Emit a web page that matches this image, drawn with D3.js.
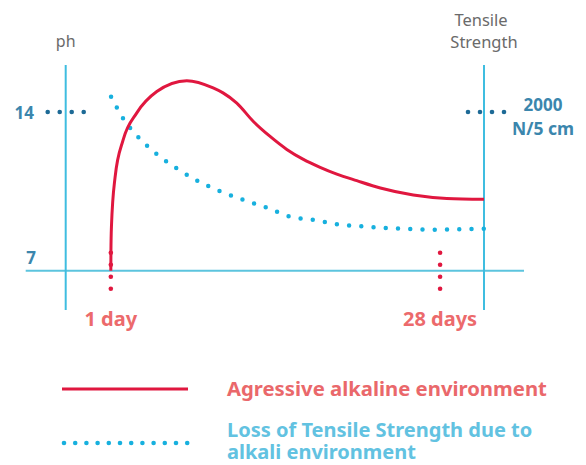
<!DOCTYPE html>
<html>
<head>
<meta charset="utf-8">
<script src="https://cdn.jsdelivr.net/npm/d3@7"></script>
<style>
	body { margin: 0; background: #fff; }
	text { font-family: "Noto Sans", "Open Sans", sans-serif; }
</style>
</head>
<body>
<div id="chart"></div>
<script>
// pH of the alkaline environment (red line), days vs ph
var alkaliDays = [1, 1.01, 1.05, 1.35, 2.01, 3.13, 4.77, 7.23, 9.39, 10.2, 11.33, 12.69, 14.06, 15.43, 16.79, 18.16, 19.53, 21.17, 23.1, 25.8, 28.55, 31.6];
var alkaliPh   = [7.0, 7.9, 8.93, 11.13, 12.77, 13.96, 14.9, 15.38, 15.06, 14.84, 14.39, 13.58, 12.92, 12.35, 11.91, 11.56, 11.26, 10.97, 10.65, 10.34, 10.19, 10.15];

// tensile strength (blue dotted), days vs N/5 cm
var tensileDays = [1.02, 2.09, 3.4, 4.88, 6.52, 8.24, 10.05, 11.9, 13.8, 15.7, 17.7, 19.6, 21.6, 23.5, 25.5, 27.6, 29.6, 31.6];
var tensileVals = [2193, 1899, 1660, 1454, 1278, 1122, 996, 891, 794, 681, 639, 585, 560, 538, 526, 517, 524, 529];

var dayTicks = [1, 28];
var dayLabels = ["1 day", "28 days"];
var phTicks = [14, 7];
var tensileTick = 2000;

var legendItems = [
	{ label: ["Agressive alkaline environment"], kind: "line" },
	{ label: ["Loss of Tensile Strength due to", "alkali environment"], kind: "dots" }
];

var W = 586, H = 465;
var red = "#e0173f", cyan = "#17b0de", axisCol = "#3fbde0", tickCol = "#3b86ad";

var svg = d3.select("#chart").append("svg").attr("width", W).attr("height", H);

var x = d3.scaleLinear().domain([-2.7, 31.6]).range([65.7, 484]);
var y = d3.scaleLinear().domain([5.27, 16.07]).range([310, 65]);
var y2 = d3.scaleLinear().domain([-495, 2592]).range([310, 65]);

// axes
svg.append("line")
	.attr("x1", x(-2.7) - 40).attr("x2", x(31.6) + 40)
	.attr("y1", y(7)).attr("y2", y(7))
	.attr("stroke", "#5cc4de").attr("stroke-width", 2);

[-2.7, 31.6].forEach(function (d) {
	svg.append("line")
		.attr("x1", x(d)).attr("x2", x(d))
		.attr("y1", y(16.07)).attr("y2", y(5.27))
		.attr("stroke", axisCol).attr("stroke-width", 2);
});

// axis titles
svg.append("text").attr("x", x(-2.7)).attr("y", 47)
	.attr("text-anchor", "middle").attr("fill", "#6a6a6a").attr("font-size", 16).text("ph");
svg.append("text").attr("x", x(31.6) - 3).attr("y", 26)
	.attr("text-anchor", "middle").attr("fill", "#6a6a6a").attr("font-size", 16.5).text("Tensile");
svg.append("text").attr("x", x(31.6)).attr("y", 48)
	.attr("text-anchor", "middle").attr("fill", "#6a6a6a").attr("font-size", 16.5).text("Strength");

// dotted tick marks, drawn as dots at offsets around a position
var dotOffsets = [-18, -6, 6, 18];
function dotsH(cx, cy, col) {
	svg.selectAll(null).data(dotOffsets).enter().append("circle")
		.attr("cx", function (o) { return cx + o; }).attr("cy", cy)
		.attr("r", 2.3).attr("fill", col);
}
function dotsV(cx, cy, col) {
	svg.selectAll(null).data(dotOffsets).enter().append("circle")
		.attr("cx", cx).attr("cy", function (o) { return cy + o; })
		.attr("r", 2.3).attr("fill", col);
}

dotsH(x(-2.7), y(14), "#1d6a96");
dotsH(x(31.6) + 2, y2(tensileTick), "#1d6a96");

svg.selectAll(".phlab").data(phTicks).enter().append("text")
	.attr("x", function (d) { return d === 14 ? 34 : 36; })
	.attr("y", function (d) { return d === 14 ? y(d) + 7 : y(d) - 7; })
	.attr("text-anchor", "end").attr("font-weight", "bold").attr("font-size", 17)
	.attr("fill", tickCol).text(function (d) { return d; });

svg.append("text").attr("x", 543).attr("y", y2(tensileTick) - 1)
	.attr("text-anchor", "middle").attr("font-weight", "bold").attr("font-size", 17)
	.attr("fill", tickCol).text(tensileTick);
svg.append("text").attr("x", 543).attr("y", y2(tensileTick) + 23)
	.attr("text-anchor", "middle").attr("font-weight", "bold").attr("font-size", 17.5)
	.attr("fill", tickCol).text("N/5 cm");

// day markers
dayTicks.forEach(function (d, i) {
	dotsV(x(d), y(7), red);
	svg.append("text").attr("x", x(d)).attr("y", 326)
		.attr("text-anchor", "middle").attr("font-weight", "bold").attr("font-size", 20)
		.attr("fill", "#ec6a6c").text(dayLabels[i]);
});

// tensile strength (dotted)
var tLine = d3.line()
	.x(function (d, i) { return x(tensileDays[i]); })
	.y(function (d) { return y2(d); })
	.curve(d3.curveMonotoneX);

var tPath = svg.append("path")
	.datum(tensileVals)
	.attr("fill", "none")
	.attr("stroke", cyan)
	.attr("stroke-width", 4.5)
	.attr("stroke-linecap", "round")
	.attr("d", tLine);
var L = tPath.node().getTotalLength();
var n = Math.round(L / 12.2);
tPath.attr("stroke-dasharray", "0 " + ((L - 0.3) / n));

// alkaline ph line
var aLine = d3.line()
	.x(function (d, i) { return x(alkaliDays[i]); })
	.y(function (d) { return y(d); })
	.curve(d3.curveMonotoneX);

svg.append("path")
	.datum(alkaliPh)
	.attr("fill", "none")
	.attr("stroke", red)
	.attr("stroke-width", 3)
	.attr("stroke-linejoin", "round")
	.attr("d", aLine);

// legend
var lg = svg.append("g");
lg.append("line").attr("x1", 62).attr("x2", 188).attr("y1", 389).attr("y2", 389)
	.attr("stroke", red).attr("stroke-width", 3);
lg.selectAll(null).data(d3.range(12)).enter().append("circle")
	.attr("cx", function (i) { return 64 + i * 11.2; }).attr("cy", 443)
	.attr("r", 2.3).attr("fill", cyan);

lg.append("text").attr("x", 227).attr("y", 396)
	.attr("font-weight", "bold").attr("font-size", 20.3).attr("fill", "#ea686b")
	.text(legendItems[0].label[0]);
legendItems[1].label.forEach(function (t, i) {
	lg.append("text").attr("x", 227).attr("y", 437 + i * 22)
		.attr("font-weight", "bold").attr("font-size", 20).attr("fill", "#62c2e1")
		.text(t);
});
</script>
</body>
</html>
